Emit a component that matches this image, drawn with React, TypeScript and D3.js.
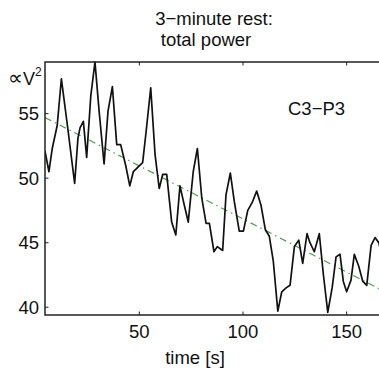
import React from "react";
import * as d3 from "d3";

const times = [4.5, 6.4, 8.0, 10.4, 12.4, 15.3, 18.8, 20.4, 21.4, 23.0, 24.6, 26.6, 28.6, 30.6, 33.0, 34.9, 37.0, 39.1, 41.0, 43.4, 45.4, 47.1, 49.0, 51.6, 53.2, 55.5, 57.6, 59.6, 61.3, 63.2, 65.6, 67.6, 69.6, 71.7, 73.6, 76.0, 78.0, 80.1, 82.2, 83.8, 86.0, 87.6, 90.2, 91.8, 93.9, 95.8, 98.2, 100.2, 102.3, 104.4, 106.6, 108.7, 110.8, 112.7, 114.6, 116.8, 118.7, 120.8, 122.7, 124.8, 126.9, 128.8, 130.9, 132.3, 134.4, 136.8, 138.8, 140.9, 143.0, 144.9, 146.8, 148.4, 150.0, 152.1, 153.7, 155.8, 157.8, 159.7, 161.8, 163.7, 165.5, 167.0];
const power = [52.1, 50.5, 52.3, 54.1, 57.7, 54.1, 49.6, 53.1, 53.9, 54.4, 51.6, 56.4, 59.0, 55.2, 51.1, 55.2, 57.1, 52.6, 52.6, 51.0, 49.4, 50.5, 50.8, 51.2, 53.5, 57.0, 51.8, 49.2, 50.3, 50.3, 46.6, 45.6, 49.4, 47.9, 46.6, 50.5, 52.3, 48.5, 46.5, 46.5, 44.3, 44.7, 44.4, 48.7, 50.4, 48.2, 45.9, 45.9, 47.5, 48.1, 49.0, 47.9, 46.0, 45.5, 43.6, 39.7, 41.2, 41.5, 41.7, 44.7, 45.2, 43.4, 45.7, 45.0, 44.3, 45.7, 42.5, 39.6, 41.5, 43.9, 44.1, 42.0, 41.2, 42.1, 44.1, 43.2, 42.0, 41.7, 44.8, 45.4, 45.0, 44.0];
const trendTimes = [4.5, 168.5];
const trendValues = [54.7, 41.2];
const xTicks = [50, 100, 150];
const yTicks = [40, 45, 50, 55];
const titleLines = ["3\u2212minute rest:", "total power"];
const channelLabel = "C3\u2212P3";
const xLabel = "time [s]";

export default function App() {
  const left = 45, top = 62, bottom = 315, right = 385;
  const x = d3.scaleLinear().domain([4.5, 168.5]).range([left, right]);
  const y = d3.scaleLinear().domain([39.4, 59]).range([bottom, top]);
  const line = d3.line<number>().x((_, i) => x(times[i])).y((d) => y(d));
  const trend = d3.line<number>().x((_, i) => x(trendTimes[i])).y((d) => y(d));
  const font = "'Liberation Sans', Arial, sans-serif";
  const axisColor = "#222";
  return (
    <svg width={379} height={370} style={{ position: "absolute", left: 0, top: 0, background: "#fff" }} fontFamily={font}>
      <defs>
        <clipPath id="plotclip">
          <rect x={left} y={top - 1} width={right - left} height={bottom - top + 2} />
        </clipPath>
      </defs>
      <text x={214} y={25} fontSize={18.5} textAnchor="middle" fill="#111">{titleLines[0]}</text>
      <text x={206} y={46} fontSize={18.5} textAnchor="middle" fill="#111">{titleLines[1]}</text>
      <g clipPath="url(#plotclip)">
        <path d={trend(trendValues) || ""} fill="none" stroke="#4e9e4e" strokeWidth={1.2} strokeDasharray="7,4,1.5,4" />
        <path d={line(power) || ""} fill="none" stroke="#111" strokeWidth={1.7} strokeLinejoin="round" />
      </g>
      <rect x={left} y={top} width={right - left} height={bottom - top} fill="none" stroke={axisColor} strokeWidth={1.5} />
      {xTicks.map((t) => (
        <g key={"x" + t}>
          <line x1={x(t)} x2={x(t)} y1={bottom} y2={bottom - 3.5} stroke={axisColor} strokeWidth={1} />
          <line x1={x(t)} x2={x(t)} y1={top} y2={top + 3.5} stroke={axisColor} strokeWidth={1} />
          <text x={x(t)} y={338} fontSize={18.5} textAnchor="middle" fill="#111">{t}</text>
        </g>
      ))}
      {yTicks.map((v) => (
        <g key={"y" + v}>
          <line x1={left} x2={left + 3.5} y1={y(v)} y2={y(v)} stroke={axisColor} strokeWidth={1} />
          <text x={39} y={y(v)} dy="0.36em" fontSize={18.5} textAnchor="end" fill="#111">{v}</text>
        </g>
      ))}
      <text x={8} y={85} fontSize={18} fill="#111"><tspan fontFamily="'DejaVu Sans'" fontSize={21}>{"\u221D"}</tspan>{"V"}<tspan fontSize={12} dy={-9}>2</tspan></text>
      <text x={288} y={115} fontSize={18.5} fill="#111">{channelLabel}</text>
      <text x={195} y={364} fontSize={18.5} textAnchor="middle" fill="#111">{xLabel}</text>
    </svg>
  );
}
